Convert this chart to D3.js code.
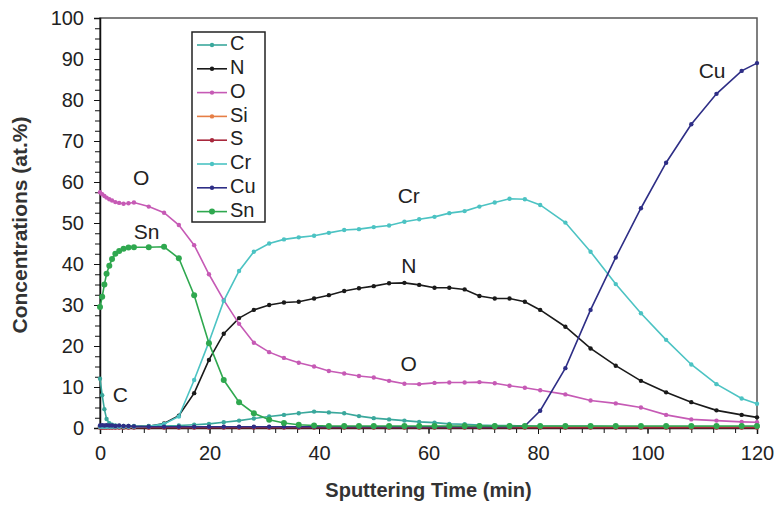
<!DOCTYPE html>
<html>
<head>
<meta charset="utf-8">
<script src="https://cdn.jsdelivr.net/npm/d3@7"></script>
<style>
  html, body { margin: 0; padding: 0; background: #fff; }
  svg { display: block; font-family: "Liberation Sans", Arial, sans-serif; }
</style>
</head>
<body>
<div id="chart"></div>
<script>
// Sputtering time of each depth-profile cycle (min)
const TIME = [0, 0.4, 0.8, 1.2, 1.7, 2.2, 2.8, 3.5, 4.3, 5.2, 6.2,
  8.9, 11.7, 14.4, 17.2, 19.9, 22.6, 25.4, 28.1, 30.9, 33.6, 36.3, 39.1, 41.8, 44.6,
  47.3, 50.0, 52.8, 55.6, 58.3, 61.1, 63.8, 66.6, 69.3, 72.1, 74.8, 77.6, 80.4,
  85.0, 89.6, 94.2, 98.8, 103.4, 108.0, 112.6, 117.2, 120];

const C_VALUES = [12.0, 8.0, 4.6, 2.2, 1.2, 0.8, 0.6, 0.5, 0.5, 0.5, 0.5,
  0.5, 0.5, 0.6, 0.8, 1.0, 1.4, 1.8, 2.3, 2.8, 3.2, 3.6, 4.0, 3.8, 3.6,
  2.9, 2.4, 2.1, 1.8, 1.5, 1.3, 1.0, 0.9, 0.7, 0.6, 0.6, 0.5, 0.4,
  0.4, 0.4, 0.3, 0.3, 0.3, 0.3, 0.3, 0.3, 0.3];

const N_VALUES = [0.3, 0.3, 0.3, 0.3, 0.3, 0.3, 0.3, 0.3, 0.3, 0.3, 0.3,
  0.4, 1.1, 3.0, 8.5, 16.6, 23.0, 26.8, 28.8, 30.0, 30.6, 30.8, 31.6, 32.4, 33.4,
  34.1, 34.6, 35.3, 35.4, 34.9, 34.2, 34.2, 33.8, 32.2, 31.6, 31.6, 30.8, 28.8,
  24.7, 19.4, 15.2, 11.5, 8.7, 6.3, 4.3, 3.2, 2.6];

const O_VALUES = [57.5, 57.0, 56.6, 56.2, 55.8, 55.5, 55.1, 54.9, 54.7, 54.8, 55.0,
  54.0, 52.5, 49.5, 44.6, 37.5, 31.2, 25.4, 20.8, 18.5, 17.1, 15.9, 15.0, 13.9, 13.3,
  12.7, 12.3, 11.5, 10.8, 10.7, 11.0, 11.1, 11.1, 11.2, 10.9, 10.3, 9.8, 9.2,
  8.2, 6.7, 6.0, 5.0, 3.2, 2.1, 1.8, 1.5, 1.4];

const SI_VALUES = [0.2, 0.2, 0.2, 0.2, 0.2, 0.2, 0.2, 0.2, 0.2, 0.2, 0.2,
  0.2, 0.2, 0.2, 0.2, 0.2, 0.2, 0.2, 0.2, 0.2, 0.2, 0.2, 0.2, 0.2, 0.2,
  0.2, 0.2, 0.2, 0.2, 0.2, 0.2, 0.2, 0.2, 0.2, 0.2, 0.2, 0.2, 0.2,
  0.2, 0.2, 0.2, 0.2, 0.2, 0.2, 0.2, 0.2, 0.2];

const S_VALUES = [0.1, 0.1, 0.1, 0.1, 0.1, 0.1, 0.1, 0.1, 0.1, 0.1, 0.1,
  0.1, 0.1, 0.1, 0.1, 0.1, 0.1, 0.1, 0.1, 0.1, 0.1, 0.1, 0.1, 0.1, 0.1,
  0.1, 0.1, 0.1, 0.1, 0.1, 0.1, 0.1, 0.1, 0.1, 0.1, 0.1, 0.1, 0.1,
  0.1, 0.1, 0.1, 0.1, 0.1, 0.1, 0.1, 0.1, 0.1];

const CR_VALUES = [0.3, 0.3, 0.3, 0.3, 0.3, 0.3, 0.3, 0.3, 0.3, 0.3, 0.3,
  0.4, 1.0, 2.8, 11.7, 21.0, 31.0, 38.3, 43.0, 45.0, 46.0, 46.5, 46.9, 47.6, 48.3,
  48.5, 49.0, 49.4, 50.3, 50.9, 51.5, 52.4, 52.9, 54.0, 55.0, 55.9, 55.8, 54.4,
  50.1, 43.0, 35.1, 28.0, 21.5, 15.5, 10.7, 7.2, 5.9];

const CU_VALUES = [0.6, 0.7, 0.6, 0.7, 0.6, 0.6, 0.5, 0.6, 0.5, 0.5, 0.4,
  0.3, 0.3, 0.3, 0.3, 0.3, 0.3, 0.3, 0.3, 0.3, 0.3, 0.3, 0.3, 0.3, 0.3,
  0.3, 0.3, 0.3, 0.3, 0.3, 0.3, 0.3, 0.3, 0.3, 0.3, 0.3, 0.5, 4.2,
  14.6, 28.8, 41.6, 53.6, 64.7, 74.1, 81.5, 87.1, 89.0];

const SN_VALUES = [29.5, 32.0, 35.0, 37.6, 39.6, 41.2, 42.5, 43.2, 43.7, 44.0, 44.1,
  44.1, 44.2, 41.4, 32.4, 20.7, 11.7, 6.3, 3.6, 2.0, 1.2, 0.8, 0.6, 0.5, 0.5,
  0.5, 0.5, 0.5, 0.5, 0.5, 0.5, 0.5, 0.5, 0.5, 0.5, 0.5, 0.5, 0.5,
  0.5, 0.5, 0.5, 0.5, 0.5, 0.5, 0.5, 0.5, 0.5];

const ELEMENTS = ['C', 'N', 'O', 'Si', 'S', 'Cr', 'Cu', 'Sn'];

const ELEMENT_COLORS = {
  'C': '#3aa89c',
  'N': '#1a1a1a',
  'O': '#c65ab5',
  'Si': '#e67e45',
  'S': '#a8283c',
  'Cr': '#4cc3c3',
  'Cu': '#2e2e86',
  'Sn': '#2fa84f'
};

// in-plot labels next to the curves
const CURVE_LABELS = [
  { text: 'O', t: 7.5, v: 60.5 },
  { text: 'Sn', t: 8.5, v: 47.5 },
  { text: 'C', t: 3.7, v: 7.8 },
  { text: 'Cr', t: 56.4, v: 56.2 },
  { text: 'N', t: 56.4, v: 39.2 },
  { text: 'O', t: 56.4, v: 15.2 },
  { text: 'Cu', t: 111.8, v: 86.8 }
];

const Y_TICKS = d3.range(0, 101, 10);
const X_TICKS = d3.range(0, 121, 20);

const series = [
  { name: 'C', values: C_VALUES },
  { name: 'N', values: N_VALUES },
  { name: 'O', values: O_VALUES },
  { name: 'Si', values: SI_VALUES },
  { name: 'S', values: S_VALUES },
  { name: 'Cr', values: CR_VALUES },
  { name: 'Cu', values: CU_VALUES },
  { name: 'Sn', values: SN_VALUES }
].map(s => ({ name: s.name, points: s.values.map((v, i) => ({ t: TIME[i], v })) }));

const width = 778;
const height = 507;
const margin = { top: 18, right: 21, bottom: 79, left: 100 };
const innerWidth = width - margin.left - margin.right;
const innerHeight = height - margin.top - margin.bottom;

const svg = d3.select('#chart')
  .append('svg')
  .attr('width', width)
  .attr('height', height);

const g = svg.append('g')
  .attr('transform', `translate(${margin.left},${margin.top})`);

const xScale = d3.scaleLinear().domain([0, 120]).range([0, innerWidth]);
const yScale = d3.scaleLinear().domain([0, 100]).range([innerHeight, 0]);

// plot frame (top / right)
g.append('rect')
  .attr('width', innerWidth)
  .attr('height', innerHeight)
  .attr('fill', 'none')
  .attr('stroke', '#555')
  .attr('stroke-width', 1.5);

// minor ticks
const xMinor = d3.axisBottom(xScale).tickValues(d3.range(0, 121, 4)).tickSize(5).tickFormat('');
const yMinor = d3.axisLeft(yScale).tickValues(d3.range(0, 101, 2.5)).tickSize(5).tickFormat('');

g.append('g').attr('transform', `translate(0,${innerHeight})`).call(xMinor)
  .call(a => a.select('.domain').remove());
g.append('g').call(yMinor)
  .call(a => a.select('.domain').remove());

// major axes with labels
const xAxis = g.append('g')
  .attr('transform', `translate(0,${innerHeight})`)
  .call(d3.axisBottom(xScale).tickValues(X_TICKS).tickSize(6).tickPadding(12));

const yAxis = g.append('g')
  .call(d3.axisLeft(yScale).tickValues(Y_TICKS).tickSize(6).tickPadding(10));

[xAxis, yAxis].forEach(a => {
  a.select('.domain').attr('stroke', '#111').attr('stroke-width', 1.5);
  a.selectAll('text')
    .style('font-size', '20px')
    .attr('fill', '#222')
    .style('font-family', '"Liberation Sans", Arial, sans-serif');
});
g.selectAll('.tick line').attr('stroke', '#111');

// axis titles
svg.append('text')
  .attr('x', margin.left + innerWidth / 2)
  .attr('y', 497)
  .attr('text-anchor', 'middle')
  .attr('font-size', '20px')
  .attr('font-weight', 'bold')
  .attr('fill', '#333')
  .text('Sputtering Time (min)');

svg.append('text')
  .attr('transform', `translate(27,${margin.top + innerHeight / 2 + 2}) rotate(-90)`)
  .attr('text-anchor', 'middle')
  .attr('font-size', '21px')
  .attr('font-weight', 'bold')
  .attr('fill', '#333')
  .text('Concentrations (at.%)');

// curves
const line = d3.line()
  .x(d => xScale(d.t))
  .y(d => yScale(d.v));

series.forEach(s => {
  const color = ELEMENT_COLORS[s.name];
  const r = s.name === 'Sn' ? 3 : 2.2;

  g.append('path')
    .datum(s.points)
    .attr('fill', 'none')
    .attr('stroke', color)
    .attr('stroke-width', 1.6)
    .attr('d', line);

  g.selectAll(null)
    .data(s.points)
    .join('circle')
    .attr('cx', d => xScale(d.t))
    .attr('cy', d => yScale(d.v))
    .attr('r', r)
    .attr('fill', color);
});

// curve labels
g.selectAll('.curve-label')
  .data(CURVE_LABELS)
  .join('text')
  .attr('class', 'curve-label')
  .attr('x', d => xScale(d.t))
  .attr('y', d => yScale(d.v))
  .attr('text-anchor', 'middle')
  .attr('dominant-baseline', 'middle')
  .attr('font-size', '21px')
  .attr('fill', '#222')
  .text(d => d.text);

// legend
const legend = svg.append('g').attr('transform', 'translate(192,32)');

legend.append('rect')
  .attr('width', 73)
  .attr('height', 190)
  .attr('fill', '#fff')
  .attr('stroke', '#222')
  .attr('stroke-width', 1.5);

ELEMENTS.forEach((name, idx) => {
  const y = 13 + idx * 23.8;
  const color = ELEMENT_COLORS[name];

  legend.append('line')
    .attr('x1', 5)
    .attr('x2', 35)
    .attr('y1', y)
    .attr('y2', y)
    .attr('stroke', color)
    .attr('stroke-width', 1.6);

  legend.append('circle')
    .attr('cx', 20)
    .attr('cy', y)
    .attr('r', name === 'Sn' ? 3 : 2.2)
    .attr('fill', color);

  legend.append('text')
    .attr('x', 38)
    .attr('y', y)
    .attr('dominant-baseline', 'middle')
    .attr('font-size', '20px')
    .attr('fill', '#222')
    .text(name);
});
</script>
</body>
</html>
